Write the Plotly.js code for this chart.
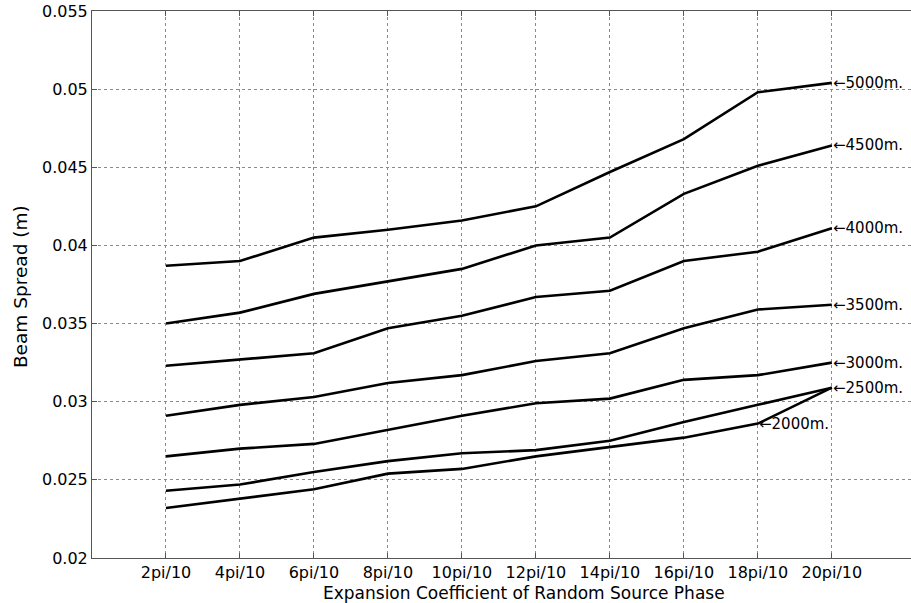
<!DOCTYPE html>
<html>
<head>
<meta charset="utf-8">
<script src="https://cdn.plot.ly/plotly-3.0.1.min.js"></script>
<style>html,body{margin:0;padding:0;background:#fff;}#chart{width:911px;height:603px;}</style>
</head>
<body>
<div id="chart"></div>
<script>
var categories = ["2pi/10","4pi/10","6pi/10","8pi/10","10pi/10","12pi/10","14pi/10","16pi/10","18pi/10","20pi/10"];
var s5000 = [0.0387,0.0390,0.0405,0.0410,0.0416,0.0425,0.0447,0.0468,0.0498,0.0504];
var s4500 = [0.0350,0.0357,0.0369,0.0377,0.0385,0.0400,0.0405,0.0433,0.0451,0.0464];
var s4000 = [0.0323,0.0327,0.0331,0.0347,0.0355,0.0367,0.0371,0.0390,0.0396,0.0411];
var s3500 = [0.0291,0.0298,0.0303,0.0312,0.0317,0.0326,0.0331,0.0347,0.0359,0.0362];
var s3000 = [0.0265,0.0270,0.0273,0.0282,0.0291,0.0299,0.0302,0.0314,0.0317,0.0325];
var s2500 = [0.0243,0.0247,0.0255,0.0262,0.0267,0.0269,0.0275,0.0287,0.0298,0.0309];
var s2000 = [0.0232,0.0238,0.0244,0.0254,0.0257,0.0265,0.0271,0.0277,0.0286,0.0309];
var seriesNames = ["5000m.","4500m.","4000m.","3500m.","3000m.","2500m.","2000m."];
var yTickVals = [0.02,0.025,0.03,0.035,0.04,0.045,0.05,0.055];
var yTickText = ['0.02','0.025','0.03','0.035','0.04','0.045','0.05','0.055'];
var xTitle = 'Expansion Coefficient of Random Source Phase';
var yTitle = 'Beam Spread (m)';

var seriesData = [s5000,s4500,s4000,s3500,s3000,s2500,s2000];
var labelIndex = [9,9,9,9,9,9,8];
var FONT = 'DejaVu Sans, Verdana, sans-serif';

var idx = categories.map(function(_, i){ return i; });
var traces = seriesData.map(function(d, k){
  return {x: idx, y: d, type: 'scatter', mode: 'lines', name: seriesNames[k],
          line: {color: '#000', width: 2.6}, hoverinfo: 'skip'};
});
var annotations = seriesData.map(function(d, k){
  var i = labelIndex[k];
  return {x: i, y: d[i], xref: 'x', yref: 'y', text: '\u2190' + seriesNames[k],
          showarrow: false, xanchor: 'left', yanchor: 'middle', xshift: -1,
          font: {family: FONT, size: 15, color: '#000'}};
});
annotations.push({x: 0.5275, y: 0, xref: 'paper', yref: 'paper', yshift: -35,
  text: xTitle, showarrow: false, xanchor: 'center', yanchor: 'middle',
  font: {family: FONT, size: 17, color: '#000'}});
annotations.push({x: -0.088, y: 0.497, xref: 'paper', yref: 'paper', textangle: -90,
  text: yTitle, showarrow: false, xanchor: 'center', yanchor: 'middle',
  font: {family: FONT, size: 18.5, color: '#000'}});

var layout = {
  width: 911, height: 603,
  margin: {l: 92, r: 0, t: 11, b: 45},
  paper_bgcolor: '#fff', plot_bgcolor: '#fff',
  showlegend: false,
  font: {family: FONT, size: 16, color: '#000'},
  xaxis: {
    range: [-1, 10.07], tickvals: idx, ticktext: categories,
    showgrid: true, gridcolor: '#8a8a8a', griddash: 'dot', gridwidth: 1,
    zeroline: false, showline: true, linecolor: '#555', linewidth: 1, mirror: 'ticks',
    ticks: 'inside', ticklen: 5, tickcolor: '#555',
    tickfont: {size: 16}, ticklabelstandoff: 0
  },
  yaxis: {
    range: [0.02, 0.055], tickvals: yTickVals, ticktext: yTickText,
    showgrid: true, gridcolor: '#8a8a8a', griddash: 'dot', gridwidth: 1,
    zeroline: false, showline: true, linecolor: '#555', linewidth: 1,
    ticks: 'inside', ticklen: 5, tickcolor: '#555',
    tickfont: {size: 16}
  },
  annotations: annotations
};
Plotly.newPlot('chart', traces, layout, {staticPlot: true, displayModeBar: false});
</script>
</body>
</html>
